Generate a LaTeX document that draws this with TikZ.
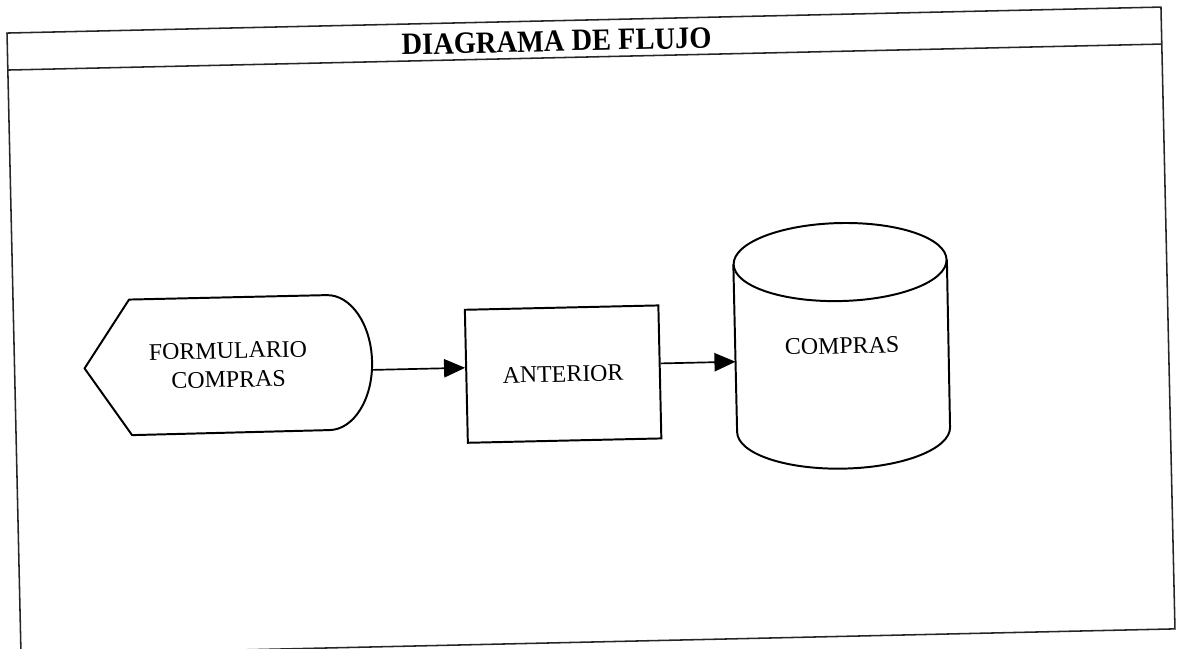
\documentclass[tikz,border=0pt]{standalone}
\usepackage{fontspec}
\setmainfont{Liberation Serif}
\usetikzlibrary{arrows.meta}
\tikzset{
  frame/.style={line width=1.1pt, draw=black!85},
  outline/.style={line width=1.4pt, draw=black, line join=round},
  flow/.style={line width=1.2pt, draw=black, -{Triangle[length=15pt,width=13pt]}},
  label/.style={font=\fontsize{17}{20.6}\selectfont, align=center, inner sep=0pt},
  headline/.style={font=\fontsize{22}{26}\selectfont\bfseries, inner sep=0pt, xscale=0.92},
  formbox/.style={minimum width=7.175cm, minimum height=3.375cm, inner sep=0pt},
  procbox/.style={draw, line width=1.4pt, minimum width=4.8375cm, minimum height=3.325cm, inner sep=0pt},
  storebox/.style={minimum width=5.325cm, minimum height=6.125cm, inner sep=0pt},
}

\begin{document}
\begin{tikzpicture}[x=0.025cm, y=0.025cm]
\useasboundingbox (0,0) rectangle (1179,649);
\begin{scope}[rotate around={1.29:(590,324)}, transform shape]
% frame and title
\draw[frame] (13.7,7) rectangle (1168,629);
\draw[frame] (13.7,592) -- (1168,592);
\node[headline] (title) at (563,608.5) {DIAGRAMA DE FLUJO};
% nodes
\node[formbox, label] (form) at (227.5,292) {FORMULARIO\\COMPRAS};
\node[procbox, label] (ant) at (562,275.5) {ANTERIOR};
\node[storebox, label] (db) at (841.5,297.5) {COMPRAS};
\coordinate (row) at (0,284);
% display shape
\draw[outline] (form.west) -- ([xshift=1.15cm]form.north west)
  -- ([xshift=-1.1cm]form.north east)
  arc[start angle=90, end angle=-90, x radius=44, y radius=67.5]
  -- ([xshift=1.15cm]form.south west) -- cycle;
% stored data
\draw[outline] ([yshift=-0.975cm]db.north) ellipse [x radius=106.5, y radius=39];
\draw[outline] ([yshift=-0.975cm]db.north west) -- ([yshift=0.975cm]db.south west)
  arc[start angle=180, end angle=360, x radius=106.5, y radius=39]
  -- ([yshift=-0.975cm]db.north east);
% connectors
\draw[flow] (form.east |- row) -- (ant.west |- row);
\draw[flow] (ant.east |- row) -- (db.west |- row);
\end{scope}
\end{tikzpicture}
\end{document}
